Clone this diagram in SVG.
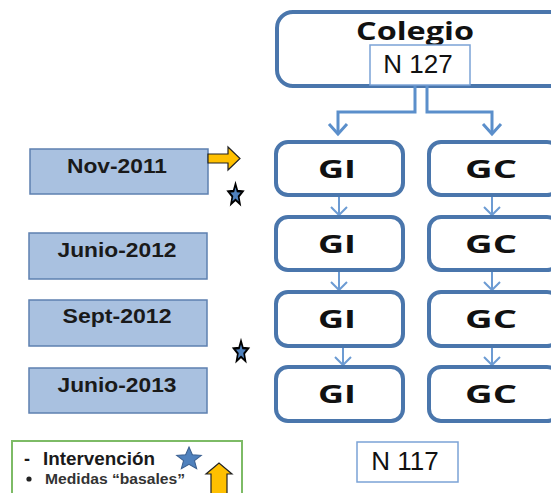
<svg xmlns="http://www.w3.org/2000/svg" width="551" height="493" viewBox="0 0 551 493">
<defs>
<style>
.box{fill:#fff;stroke:#4A76AC;stroke-width:4}
.nbox{fill:#fff;stroke:#7BA3D6;stroke-width:1.5}
.date{fill:#A9C1E0;stroke:#5E80B0;stroke-width:1.5}
.big{font-family:"Open Sans",sans-serif;font-weight:700;font-size:25px;fill:#111;text-anchor:middle}
.num{font-family:"Liberation Sans",Arial,sans-serif;font-size:26px;fill:#111;text-anchor:middle}
.dt{font-family:"Liberation Sans",Arial,sans-serif;font-weight:700;font-size:20px;fill:#1a1a1a;text-anchor:middle}
.conn{fill:none;stroke:#5B8FCB;stroke-width:3}
.thin{fill:none;stroke:#6C9BD3;stroke-width:2}
.star{fill:#4F81BD;stroke:#000;stroke-width:2.2;stroke-linejoin:miter}
.yel{fill:#FFC000;stroke:#222;stroke-width:1.2}
</style>
</defs>
<rect width="551" height="493" fill="#fff"/>
<g id="colegio">
<rect class="box" x="277" y="12" width="290" height="74" rx="16"/>
<text class="big" x="415" y="40" textLength="118" lengthAdjust="spacingAndGlyphs">Colegio</text>
</g>
<g id="n127">
<rect class="nbox" x="370" y="45" width="100" height="40"/>
<text class="num" x="418" y="73">N 127</text>
</g>
<g id="connectors">
<path class="conn" d="M415 86 V112 H338 V134"/>
<path class="conn" d="M427 86 V112 H492 V134"/>
<path class="conn" d="M329 124 L338 134 L347 124"/>
<path class="conn" d="M483 124 L492 134 L501 124"/>
<path class="thin" d="M339 197 V215 M331 207 L339 215 L347 207"/>
<path class="thin" d="M492 197 V215 M484 207 L492 215 L500 207"/>
<path class="thin" d="M339 271 V290 M331 282 L339 290 L347 282"/>
<path class="thin" d="M492 271 V290 M484 282 L492 290 L500 282"/>
<path class="thin" d="M343 346 V365 M335 357 L343 365 L351 357"/>
<path class="thin" d="M492 346 V365 M484 357 L492 365 L500 357"/>
</g>
<g id="gi1"><rect class="box" x="276" y="142" width="127" height="53" rx="12"/><text class="big" x="337" y="178" textLength="38" lengthAdjust="spacingAndGlyphs">GI</text></g>
<g id="gc1"><rect class="box" x="429" y="142" width="130" height="53" rx="12"/><text class="big" x="491" y="178" textLength="52" lengthAdjust="spacingAndGlyphs">GC</text></g>
<g id="gi2"><rect class="box" x="276" y="217" width="127" height="53" rx="12"/><text class="big" x="337" y="253" textLength="38" lengthAdjust="spacingAndGlyphs">GI</text></g>
<g id="gc2"><rect class="box" x="429" y="217" width="130" height="53" rx="12"/><text class="big" x="491" y="253" textLength="52" lengthAdjust="spacingAndGlyphs">GC</text></g>
<g id="gi3"><rect class="box" x="276" y="292" width="127" height="54" rx="12"/><text class="big" x="337" y="328" textLength="38" lengthAdjust="spacingAndGlyphs">GI</text></g>
<g id="gc3"><rect class="box" x="429" y="292" width="130" height="54" rx="12"/><text class="big" x="491" y="328" textLength="52" lengthAdjust="spacingAndGlyphs">GC</text></g>
<g id="gi4"><rect class="box" x="276" y="367" width="127" height="54" rx="12"/><text class="big" x="337" y="403" textLength="38" lengthAdjust="spacingAndGlyphs">GI</text></g>
<g id="gc4"><rect class="box" x="429" y="367" width="130" height="54" rx="12"/><text class="big" x="491" y="403" textLength="52" lengthAdjust="spacingAndGlyphs">GC</text></g>
<g id="n117">
<rect class="nbox" x="357" y="442" width="101" height="40"/>
<text class="num" x="405" y="470">N 117</text>
</g>
<g id="nov2011"><rect class="date" x="30" y="149" width="178" height="45"/><text class="dt" x="117" y="173" textLength="100" lengthAdjust="spacingAndGlyphs">Nov-2011</text></g>
<g id="junio2012"><rect class="date" x="29" y="233" width="178" height="46"/><text class="dt" x="117" y="257" textLength="119" lengthAdjust="spacingAndGlyphs">Junio-2012</text></g>
<g id="sept2012"><rect class="date" x="29" y="300" width="178" height="46"/><text class="dt" x="117" y="323" textLength="109" lengthAdjust="spacingAndGlyphs">Sept-2012</text></g>
<g id="junio2013"><rect class="date" x="29" y="368" width="178" height="45"/><text class="dt" x="117" y="392" textLength="119" lengthAdjust="spacingAndGlyphs">Junio-2013</text></g>
<g id="arrow-nov">
<path class="yel" d="M208 154 H228 V147 L240 158.5 L228 170 V163 H208 Z"/>
</g>
<g id="star1">
<path class="star" transform="translate(235.5 195) scale(0.75 1.1)" d="M0 -10 L2.6 -3.6 L9.5 -3.1 L4.2 1.4 L5.9 8.1 L0 4.4 L-5.9 8.1 L-4.2 1.4 L-9.5 -3.1 L-2.6 -3.6 Z"/>
</g>
<g id="star2">
<path class="star" transform="translate(241 352) scale(0.75 1.1)" d="M0 -10 L2.6 -3.6 L9.5 -3.1 L4.2 1.4 L5.9 8.1 L0 4.4 L-5.9 8.1 L-4.2 1.4 L-9.5 -3.1 L-2.6 -3.6 Z"/>
</g>
<g id="legend">
<rect x="12" y="441" width="230" height="60" fill="#fff" stroke="#7DBB66" stroke-width="2"/>
<text x="24" y="465" font-family="Liberation Sans,Arial,sans-serif" font-weight="700" font-size="18" fill="#1a1a1a">-</text>
<text x="43" y="465" font-family="Liberation Sans,Arial,sans-serif" font-weight="700" font-size="18" fill="#1a1a1a" textLength="112" lengthAdjust="spacingAndGlyphs">Intervención</text>
<circle cx="29" cy="479" r="2.6" fill="#222"/>
<text x="45" y="484" font-family="Liberation Sans,Arial,sans-serif" font-weight="700" font-size="14" fill="#333" textLength="140" lengthAdjust="spacingAndGlyphs">Medidas “basales”</text>
<path transform="translate(189 459) scale(1.3 1.2)" fill="#4F81BD" stroke="#3A5F8F" stroke-width="0.8" d="M0 -10 L2.6 -3.6 L9.5 -3.1 L4.2 1.4 L5.9 8.1 L0 4.4 L-5.9 8.1 L-4.2 1.4 L-9.5 -3.1 L-2.6 -3.6 Z"/>
<path class="yel" d="M211 496 V474 H206 L219 463 L232 474 H227 V496 Z"/>
</g>
</svg>
